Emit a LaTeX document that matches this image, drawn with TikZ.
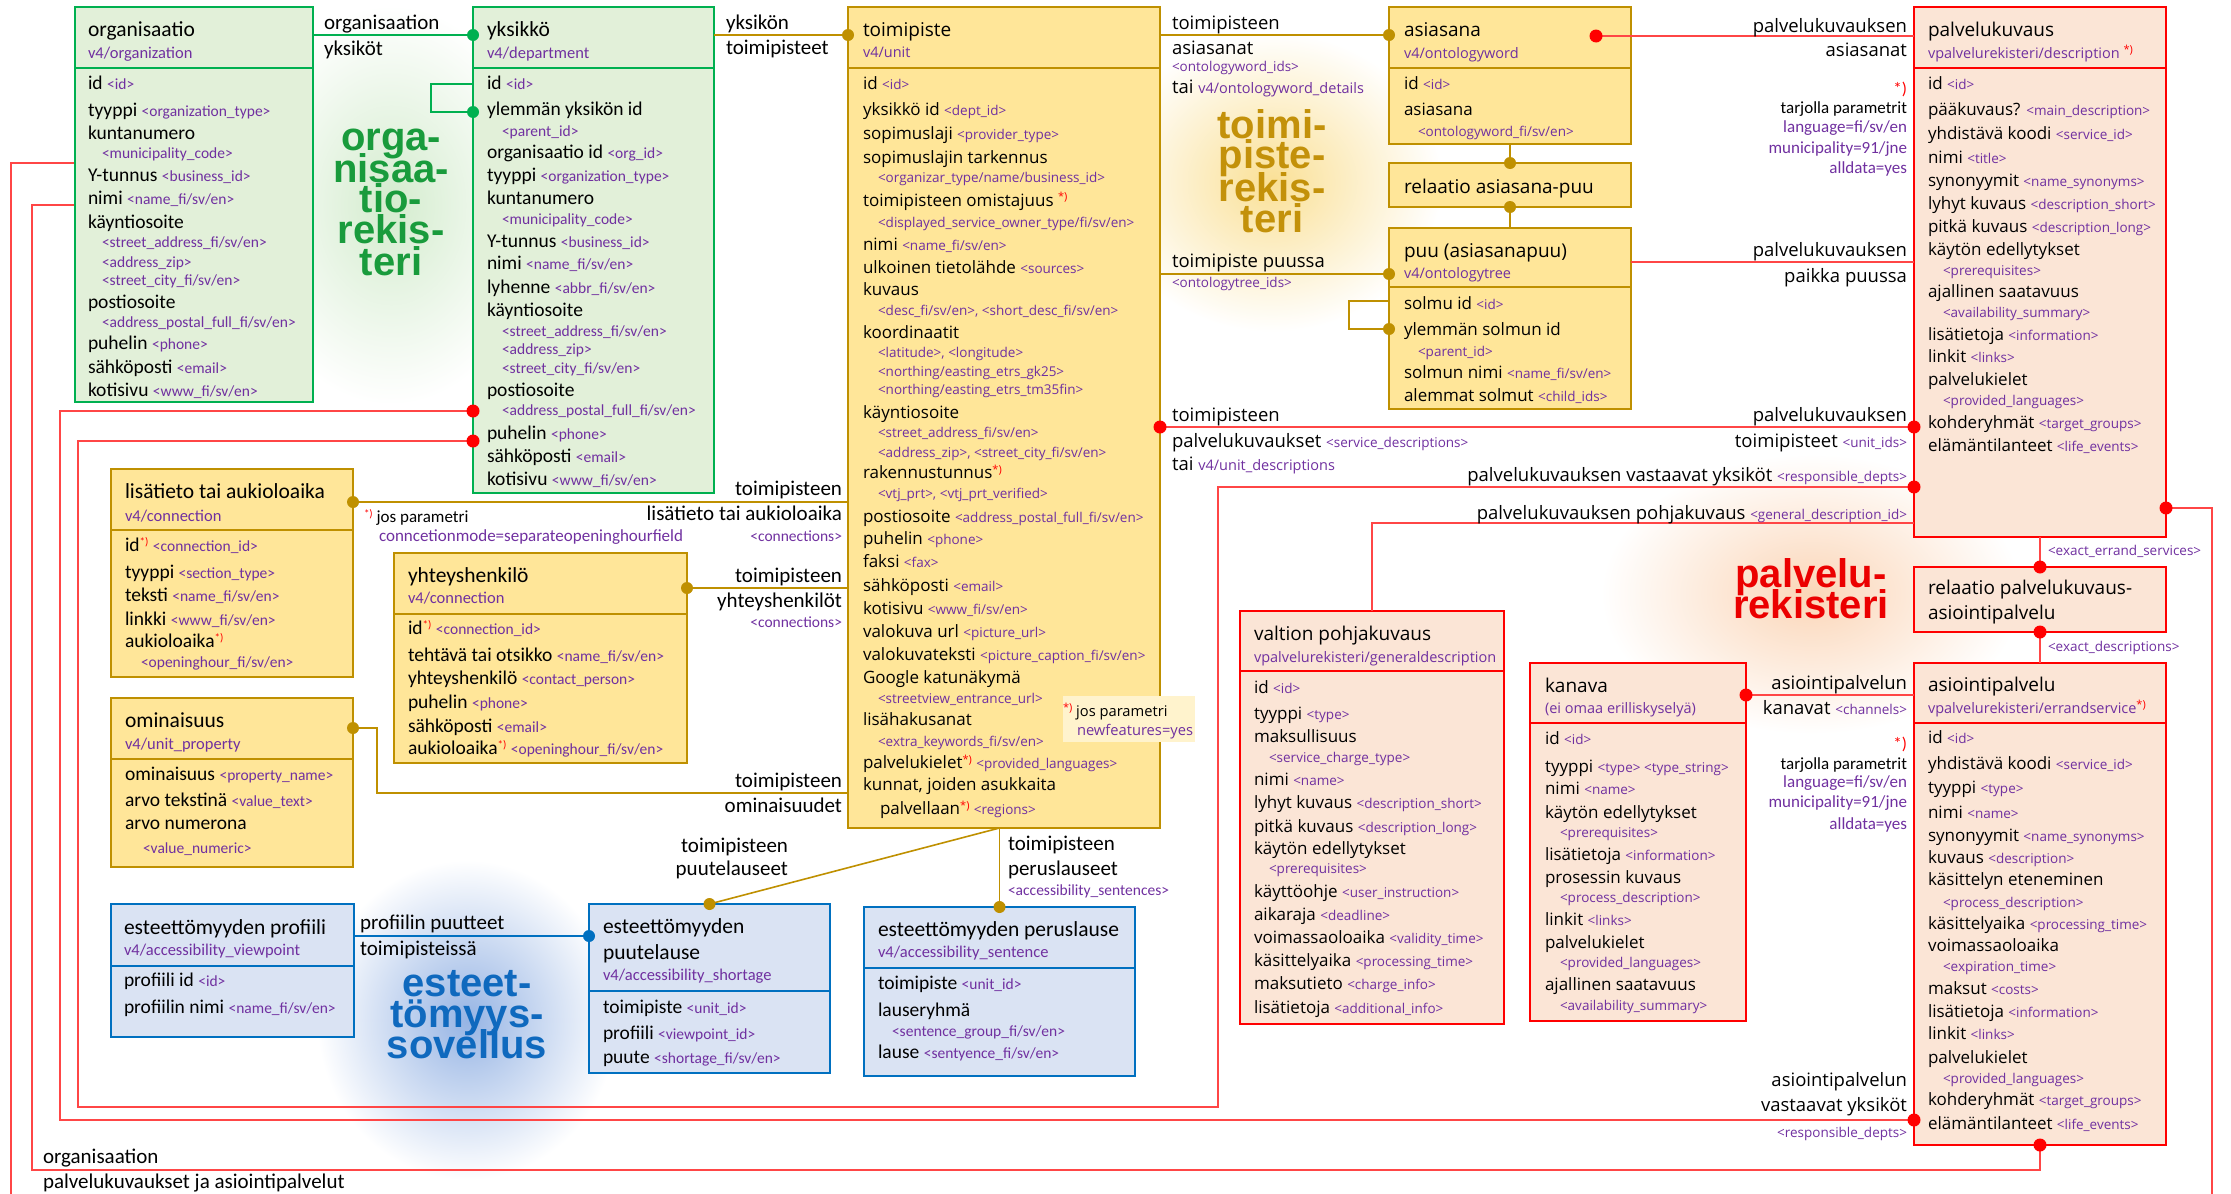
\documentclass[tikz,border=0pt]{standalone}
\usepackage{fontspec}
\setmainfont{Open Sans}
\newfontfamily\fcal{Carlito}
\newfontfamily\fos{Open Sans}
\newfontfamily\fbig{Liberation Sans}
\definecolor{gfill}{RGB}{226,240,217}
\definecolor{gline}{RGB}{0,176,80}
\definecolor{yfill}{RGB}{255,230,153}
\definecolor{yline}{RGB}{191,144,0}
\definecolor{rfill}{RGB}{251,229,214}
\definecolor{rline}{RGB}{255,0,0}
\definecolor{rcon}{RGB}{255,70,70}
\definecolor{bfill}{RGB}{218,227,243}
\definecolor{bline}{RGB}{0,112,192}
\definecolor{pur}{RGB}{112,48,160}
\definecolor{notef}{RGB}{255,243,205}
\definecolor{gbig}{RGB}{25,155,60}
\definecolor{ybig}{RGB}{195,145,10}
\definecolor{bbig}{RGB}{15,105,190}
\definecolor{rbig}{RGB}{235,0,0}
\newcommand\tgo[1]{{\color{pur}\fontsize{13.5}{16}\selectfont #1}}
\newcommand\tgc[1]{{\color{pur}\fontsize{15.5}{18}\selectfont #1}}
\newcommand\rast{\raisebox{.55ex}{\color{red}\fontsize{11}{12}\selectfont *)}}
\tikzset{
 box/.style={rectangle, anchor=north west, outer sep=0pt, inner sep=0pt, line width=2.5pt},
 gbox/.style={box, draw=gline, fill=gfill},
 ybox/.style={box, draw=yline, fill=yfill},
 rbox/.style={box, draw=rline, fill=rfill},
 bbox/.style={box, draw=bline, fill=bfill},
 txt/.style={anchor=base west, inner sep=0pt, outer sep=0pt},
 ct/.style={txt, font=\fcal\fontsize{21.5}{24}\selectfont},
 cf/.style={txt, font=\fcal\fontsize{19.5}{22}\selectfont},
 cs/.style={txt, text=pur, font=\fcal\fontsize{16.5}{19}\selectfont},
 ctg/.style={txt, text=pur, font=\fcal\fontsize{15.5}{18}\selectfont},
 cl/.style={txt, font=\fcal\fontsize{21}{24}\selectfont},
 cn/.style={txt, font=\fcal\fontsize{17}{20}\selectfont},
 ot/.style={txt, font=\fos\fontsize{19}{22}\selectfont},
 of/.style={txt, font=\fos\fontsize{17}{20}\selectfont},
 os/.style={txt, text=pur, font=\fos\fontsize{14.5}{17}\selectfont},
 otg/.style={txt, text=pur, font=\fos\fontsize{13.5}{16}\selectfont},
 ol/.style={txt, font=\fos\fontsize{18.5}{22}\selectfont},
 on/.style={txt, font=\fos\fontsize{14.7}{17}\selectfont},
 re/.style={anchor=base east},
 big/.style={anchor=base, inner sep=0pt, text height=27pt, text depth=2pt, font=\fbig\bfseries\fontsize{40}{40}\selectfont},
 gsep/.style={draw=gline, line width=2pt},
 ysep/.style={draw=yline, line width=2pt},
 rsep/.style={draw=rline, line width=1.6pt},
 bsep/.style={draw=bline, line width=2pt},
 gconn/.style={draw=gline, line width=2pt},
 yconn/.style={draw=yline, line width=1.6pt},
 rconn/.style={draw=rcon, line width=1.8pt},
 bconn/.style={draw=bline, line width=1.8pt},
}
\begin{document}
\begin{tikzpicture}[x=1pt,y=-1pt]
\useasboundingbox[fill=white] (0,0) rectangle (2231,1194);
% glows
\shade[inner color={rgb,255:red,212;green,236;blue,206}, outer color=white] (391,205) ellipse (150pt and 200pt);
\shade[inner color={rgb,255:red,250;green,224;blue,150}, outer color=white] (1272,182) ellipse (170pt and 150pt);
\shade[inner color={rgb,255:red,150;green,180;blue,228}, outer color=white] (467,1020) ellipse (150pt and 160pt);
\shade[inner color={rgb,255:red,251;green,214;blue,184}, outer color=white] (1811,594) ellipse (210pt and 140pt);
% big labels
\node[big, text=gbig] (g1) at (391,150) {orga-};
\node[big, text=gbig] (g2) at (391,182) {nisaa-};
\node[big, text=gbig] (g3) at (391,212) {tio-};
\node[big, text=gbig] (g4) at (391,243) {rekis-};
\node[big, text=gbig] (g5) at (391,275) {teri};
\node[big, text=ybig] (y1) at (1272,138) {toimi-};
\node[big, text=ybig] (y2) at (1272,168) {piste-};
\node[big, text=ybig] (y3) at (1272,201) {rekis-};
\node[big, text=ybig] (y4) at (1272,232) {teri};
\node[big, text=bbig] (b1) at (467,996) {esteet-};
\node[big, text=bbig] (b2) at (467,1027) {tömyys-};
\node[big, text=bbig] (b3) at (467,1058) {sovellus};
\node[big, text=rbig] (r1) at (1811,587) {palvelu-};
\node[big, text=rbig] (r2) at (1811,618) {rekisteri};

% ---------- long connectors ----------
\draw[rconn] (75,163) -| (11,1194);
\draw[rconn] (75,205) -| (32,1170) -| (2040,1145);
\draw[rconn] (473,411) -| (60,1120) -- (1914,1120);
\draw[rconn] (473,441) -| (78,1107) -| (1218,487) -- (1914,487);
\draw[rconn] (2166,508) -| (2212,1194);

% ---------- boxes ----------
\node[gbox, minimum width=238pt, minimum height=395pt] (org) at (75,7) {};
\node[gbox, minimum width=241pt, minimum height=486pt] (yks) at (473,7) {};
\node[ybox, minimum width=312pt, minimum height=821pt] (toim) at (848,7) {};
\node[ybox, minimum width=242pt, minimum height=137pt] (asia) at (1389,7) {};
\node[ybox, minimum width=242pt, minimum height=44pt] (rel1) at (1389,163) {};
\node[ybox, minimum width=242pt, minimum height=181pt] (puu) at (1389,228) {};
\node[rbox, minimum width=252pt, minimum height=530pt] (pk) at (1914,7) {};
\node[rbox, minimum width=252pt, minimum height=65pt] (rel2) at (1914,567) {};
\node[rbox, minimum width=252pt, minimum height=482pt] (asi) at (1914,663) {};
\node[rbox, minimum width=216pt, minimum height=358pt] (kan) at (1530,663) {};
\node[rbox, minimum width=264pt, minimum height=413pt] (val) at (1240,611) {};
\node[ybox, minimum width=242pt, minimum height=208pt] (lis) at (111,469) {};
\node[ybox, minimum width=293pt, minimum height=210pt] (yht) at (394,553) {};
\node[ybox, minimum width=242pt, minimum height=169pt] (omi) at (111,698) {};
\node[bbox, minimum width=243pt, minimum height=133pt] (prof) at (111,904) {};
\node[bbox, minimum width=241pt, minimum height=169pt] (puut) at (589,904) {};
\node[bbox, minimum width=271pt, minimum height=169pt] (peru) at (864,907) {};

% header separators
\draw[gsep] (org.west |- 0,68) -- (org.east |- 0,68);
\draw[gsep] (yks.west |- 0,68) -- (yks.east |- 0,68);
\draw[ysep] (toim.west |- 0,68) -- (toim.east |- 0,68);
\draw[ysep] (asia.west |- 0,68) -- (asia.east |- 0,68);
\draw[ysep] (puu.west |- 0,287) -- (puu.east |- 0,287);
\draw[rsep] (pk.west |- 0,68) -- (pk.east |- 0,68);
\draw[rsep] (asi.west |- 0,723) -- (asi.east |- 0,723);
\draw[rsep] (kan.west |- 0,723) -- (kan.east |- 0,723);
\draw[rsep] (val.west |- 0,671) -- (val.east |- 0,671);
\draw[ysep] (lis.west |- 0,530) -- (lis.east |- 0,530);
\draw[ysep] (yht.west |- 0,614) -- (yht.east |- 0,614);
\draw[ysep] (omi.west |- 0,759) -- (omi.east |- 0,759);
\draw[bsep] (prof.west |- 0,966) -- (prof.east |- 0,966);
\draw[bsep] (puut.west |- 0,991) -- (puut.east |- 0,991);
\draw[bsep] (peru.west |- 0,968) -- (peru.east |- 0,968);

% ---------- connectors between boxes ----------
\draw[gconn] (org.east |- 0,35) -- (yks.west |- 0,35);
\draw[gconn] (yks.west |- 0,84) -| (431,112) -- (yks.west |- 0,112);
\draw[yconn] (yks.east |- 0,35) -- (toim.west |- 0,35);
\draw[yconn] (toim.east |- 0,35) -- (asia.west |- 0,35);
\draw[yconn] (toim.east |- 0,274) -- (puu.west |- 0,274);
\draw[yconn] (asia.south) -- (rel1.north);
\draw[yconn] (rel1.south) -- (puu.north);
\draw[yconn] (puu.west |- 0,301) -| (1349,329) -- (puu.west |- 0,329);
\coordinate (adot) at (1596,36);
\draw[rconn] (adot) -- (pk.west |- 0,36);
\draw[rconn] (puu.east |- 0,262) -- (pk.west |- 0,262);
\draw[rconn] (toim.east |- 0,427) -- (pk.west |- 0,427);
\draw[rconn] (pk.west |- 0,523) -| (val.north);
\draw[rconn] (pk.south) -- (rel2.north);
\draw[rconn] (rel2.south) -- (asi.north);
\draw[rconn] (kan.east |- 0,695) -- (asi.west |- 0,695);
\draw[yconn] (lis.east |- 0,502) -- (toim.west |- 0,502);
\draw[yconn] (yht.east |- 0,588) -- (toim.west |- 0,588);
\draw[yconn] (omi.east |- 0,728) -| (377,793) -- (toim.west |- 0,793);
\draw[yconn] (peru.north |- toim.south) -- (puut.north);
\draw[yconn] (peru.north |- toim.south) -- (peru.north);
\draw[bconn] (prof.east |- 0,936) -- (puut.west |- 0,936);

% ---------- dots ----------
\fill[gline] (yks.west |- 0,35) circle (6pt);
\fill[gline] (yks.west |- 0,112) circle (6pt);
\fill[yline] (toim.west |- 0,35) circle (6pt);
\fill[yline] (asia.west |- 0,35) circle (6pt);
\fill[yline] (puu.west |- 0,274) circle (6pt);
\fill[yline] (puu.west |- 0,329) circle (6pt);
\fill[yline] (rel1.north) circle (6pt);
\fill[yline] (rel1.south) circle (6pt);
\fill[yline] (lis.east |- 0,502) circle (6pt);
\fill[yline] (yht.east |- 0,588) circle (6pt);
\fill[yline] (omi.east |- 0,728) circle (6pt);
\fill[yline] (puut.north) circle (6pt);
\fill[yline] (peru.north) circle (6pt);
\fill[bline] (puut.west |- 0,936) circle (6pt);
\fill[rline] (yks.west |- 0,411) circle (6.5pt);
\fill[rline] (yks.west |- 0,441) circle (6.5pt);
\fill[rline] (adot) circle (6.5pt);
\fill[rline] (toim.east |- 0,427) circle (6.5pt);
\fill[rline] (pk.west |- 0,427) circle (6.5pt);
\fill[rline] (pk.west |- 0,487) circle (6.5pt);
\fill[rline] (pk.east |- 0,508) circle (6.5pt);
\fill[rline] (rel2.north) circle (6.5pt);
\fill[rline] (rel2.south) circle (6.5pt);
\fill[rline] (kan.east |- 0,695) circle (6.5pt);
\fill[rline] (asi.west |- 0,1120) circle (6.5pt);
\fill[rline] (asi.south) circle (6.5pt);

% ---------- organisaatio ----------
\node[ct] (org-t) at (88,36) {organisaatio};
\node[cs] (org-s) at (88,58) {v4/organization};
\node[cf] (org-1) at (88,89) {id \tgc{<id>}};
\node[cf] (org-2) at (88,116) {tyyppi \tgc{<organization\_type>}};
\node[cf] (org-3) at (88,139) {kuntanumero};
\node[ctg] (org-4) at (102,158) {<municipality\_code>};
\node[cf] (org-5) at (88,181) {Y-tunnus \tgc{<business\_id>}};
\node[cf] (org-6) at (88,204) {nimi \tgc{<name\_fi/sv/en>}};
\node[cf] (org-7) at (88,228) {käyntiosoite};
\node[ctg] (org-8) at (102,247) {<street\_address\_fi/sv/en>};
\node[ctg] (org-9) at (102,267) {<address\_zip>};
\node[ctg] (org-10) at (102,285) {<street\_city\_fi/sv/en>};
\node[cf] (org-11) at (88,308) {postiosoite};
\node[ctg] (org-12) at (102,327) {<address\_postal\_full\_fi/sv/en>};
\node[cf] (org-13) at (88,349) {puhelin \tgc{<phone>}};
\node[cf] (org-14) at (88,373) {sähköposti \tgc{<email>}};
\node[cf] (org-15) at (88,396) {kotisivu \tgc{<www\_fi/sv/en>}};

% ---------- yksikkö ----------
\node[ct] (yks-t) at (487,36) {yksikkö};
\node[cs] (yks-s) at (487,58) {v4/department};
\node[cf] (yks-1) at (487,89) {id \tgc{<id>}};
\node[cf] (yks-2) at (487,115) {ylemmän yksikön id};
\node[ctg] (yks-3) at (502,136) {<parent\_id>};
\node[cf] (yks-4) at (487,158) {organisaatio id \tgc{<org\_id>}};
\node[cf] (yks-5) at (487,181) {tyyppi \tgc{<organization\_type>}};
\node[cf] (yks-6) at (487,204) {kuntanumero};
\node[ctg] (yks-7) at (502,224) {<municipality\_code>};
\node[cf] (yks-8) at (487,247) {Y-tunnus \tgc{<business\_id>}};
\node[cf] (yks-9) at (487,269) {nimi \tgc{<name\_fi/sv/en>}};
\node[cf] (yks-10) at (487,293) {lyhenne \tgc{<abbr\_fi/sv/en>}};
\node[cf] (yks-11) at (487,316) {käyntiosoite};
\node[ctg] (yks-12) at (502,336) {<street\_address\_fi/sv/en>};
\node[ctg] (yks-13) at (502,354) {<address\_zip>};
\node[ctg] (yks-14) at (502,373) {<street\_city\_fi/sv/en>};
\node[cf] (yks-15) at (487,396) {postiosoite};
\node[ctg] (yks-16) at (502,415) {<address\_postal\_full\_fi/sv/en>};
\node[cf] (yks-17) at (487,439) {puhelin \tgc{<phone>}};
\node[cf] (yks-18) at (487,462) {sähköposti \tgc{<email>}};
\node[cf] (yks-19) at (487,485) {kotisivu \tgc{<www\_fi/sv/en>}};

% ---------- toimipiste ----------
\node[ot] (tp-t) at (863,36) {toimipiste};
\node[os] (tp-s) at (863,57) {v4/unit};
\node[of] (tp-1) at (863,89) {id \tgo{<id>}};
\node[of] (tp-2) at (863,115) {yksikkö id \tgo{<dept\_id>}};
\node[of] (tp-3) at (863,139) {sopimuslaji \tgo{<provider\_type>}};
\node[of] (tp-4) at (863,163) {sopimuslajin tarkennus};
\node[otg] (tp-5) at (878,182) {<organizar\_type/name/business\_id>};
\node[of] (tp-6) at (863,206) {toimipisteen omistajuus \rast};
\node[otg] (tp-7) at (878,227) {<displayed\_service\_owner\_type/fi/sv/en>};
\node[of] (tp-8) at (863,250) {nimi \tgo{<name\_fi/sv/en>}};
\node[of] (tp-9) at (863,273) {ulkoinen tietolähde \tgo{<sources>}};
\node[of] (tp-10) at (863,295) {kuvaus};
\node[otg] (tp-11) at (878,315) {<desc\_fi/sv/en>, <short\_desc\_fi/sv/en>};
\node[of] (tp-12) at (863,338) {koordinaatit};
\node[otg] (tp-13) at (878,357) {<latitude>, <longitude>};
\node[otg] (tp-14) at (878,376) {<northing/easting\_etrs\_gk25>};
\node[otg] (tp-15) at (878,394) {<northing/easting\_etrs\_tm35fin>};
\node[of] (tp-16) at (863,418) {käyntiosoite};
\node[otg] (tp-17) at (878,437) {<street\_address\_fi/sv/en>};
\node[otg] (tp-18) at (878,457) {<address\_zip>, <street\_city\_fi/sv/en>};
\node[of] (tp-19) at (863,478) {rakennustunnus\rast};
\node[otg] (tp-20) at (878,498) {<vtj\_prt>, <vtj\_prt\_verified>};
\node[of] (tp-21) at (863,522) {postiosoite \tgo{<address\_postal\_full\_fi/sv/en>}};
\node[of] (tp-22) at (863,544) {puhelin \tgo{<phone>}};
\node[of] (tp-23) at (863,567) {faksi \tgo{<fax>}};
\node[of] (tp-24) at (863,591) {sähköposti \tgo{<email>}};
\node[of] (tp-25) at (863,614) {kotisivu \tgo{<www\_fi/sv/en>}};
\node[of] (tp-26) at (863,637) {valokuva url \tgo{<picture\_url>}};
\node[of] (tp-27) at (863,660) {valokuvateksti \tgo{<picture\_caption\_fi/sv/en>}};
\node[of] (tp-28) at (863,683) {Google katunäkymä};
\node[otg] (tp-29) at (878,703) {<streetview\_entrance\_url>};
\node[of] (tp-30) at (863,725) {lisähakusanat};
\node[otg] (tp-31) at (878,746) {<extra\_keywords\_fi/sv/en>};
\node[of] (tp-32) at (863,768) {palvelukielet\rast{} \tgo{<provided\_languages>}};
\node[of] (tp-33) at (863,790) {kunnat, joiden asukkaita};
\node[of] (tp-34) at (880,814) {palvellaan\rast{} \tgo{<regions>}};
\node[fill=notef, anchor=north west, inner sep=0pt, minimum width=132pt, minimum height=46pt] (tpn) at (1063,696) {};
\node[on] (tpn-1) at (1063,716) {\rast\ jos parametri};
\node[on, text=pur] (tpn-2) at (1077,735) {newfeatures=yes};

% ---------- asiasana / relaatio / puu ----------
\node[ot] (as-t) at (1404,36) {asiasana};
\node[os] (as-s) at (1404,58) {v4/ontologyword};
\node[of] (as-1) at (1404,89) {id \tgo{<id>}};
\node[of] (as-2) at (1404,115) {asiasana};
\node[otg] (as-3) at (1418,136) {<ontologyword\_fi/sv/en>};
\node[ot] (r1-t) at (1404,193) {relaatio asiasana-puu};
\node[ot] (pu-t) at (1404,257) {puu (asiasanapuu)};
\node[os] (pu-s) at (1404,278) {v4/ontologytree};
\node[of] (pu-1) at (1404,309) {solmu id \tgo{<id>}};
\node[of] (pu-2) at (1404,335) {ylemmän solmun id};
\node[otg] (pu-3) at (1418,356) {<parent\_id>};
\node[of] (pu-4) at (1404,378) {solmun nimi \tgo{<name\_fi/sv/en>}};
\node[of] (pu-5) at (1404,401) {alemmat solmut \tgo{<child\_ids>}};

% ---------- palvelukuvaus ----------
\node[ot] (pk-t) at (1928,36) {palvelukuvaus};
\node[os] (pk-s) at (1928,58) {vpalvelurekisteri/description \rast};
\node[of] (pk-1) at (1928,89) {id \tgo{<id>}};
\node[of] (pk-2) at (1928,115) {pääkuvaus? \tgo{<main\_description>}};
\node[of] (pk-3) at (1928,139) {yhdistävä koodi \tgo{<service\_id>}};
\node[of] (pk-4) at (1928,163) {nimi \tgo{<title>}};
\node[of] (pk-5) at (1928,186) {synonyymit \tgo{<name\_synonyms>}};
\node[of] (pk-6) at (1928,209) {lyhyt kuvaus \tgo{<description\_short>}};
\node[of] (pk-7) at (1928,232) {pitkä kuvaus \tgo{<description\_long>}};
\node[of] (pk-8) at (1928,255) {käytön edellytykset};
\node[otg] (pk-9) at (1943,275) {<prerequisites>};
\node[of] (pk-10) at (1928,297) {ajallinen saatavuus};
\node[otg] (pk-11) at (1943,317) {<availability\_summary>};
\node[of] (pk-12) at (1928,340) {lisätietoja \tgo{<information>}};
\node[of] (pk-13) at (1928,362) {linkit \tgo{<links>}};
\node[of] (pk-14) at (1928,385) {palvelukielet};
\node[otg] (pk-15) at (1943,405) {<provided\_languages>};
\node[of] (pk-16) at (1928,428) {kohderyhmät \tgo{<target\_groups>}};
\node[of] (pk-17) at (1928,451) {elämäntilanteet \tgo{<life\_events>}};

% ---------- relaatio palvelukuvaus-asiointipalvelu ----------
\node[ot] (r2-1) at (1928,594) {relaatio palvelukuvaus-};
\node[ot] (r2-2) at (1928,619) {asiointipalvelu};

% ---------- asiointipalvelu ----------
\node[ot] (ai-t) at (1928,691) {asiointipalvelu};
\node[os] (ai-s) at (1928,713) {vpalvelurekisteri/errandservice\rast};
\node[of] (ai-1) at (1928,743) {id \tgo{<id>}};
\node[of] (ai-2) at (1928,769) {yhdistävä koodi \tgo{<service\_id>}};
\node[of] (ai-3) at (1928,793) {tyyppi \tgo{<type>}};
\node[of] (ai-4) at (1928,818) {nimi \tgo{<name>}};
\node[of] (ai-5) at (1928,841) {synonyymit \tgo{<name\_synonyms>}};
\node[of] (ai-6) at (1928,863) {kuvaus \tgo{<description>}};
\node[of] (ai-7) at (1928,885) {käsittelyn eteneminen};
\node[otg] (ai-8) at (1943,907) {<process\_description>};
\node[of] (ai-9) at (1928,929) {käsittelyaika \tgo{<processing\_time>}};
\node[of] (ai-10) at (1928,951) {voimassaoloaika};
\node[otg] (ai-11) at (1943,971) {<expiration\_time>};
\node[of] (ai-12) at (1928,994) {maksut \tgo{<costs>}};
\node[of] (ai-13) at (1928,1017) {lisätietoja \tgo{<information>}};
\node[of] (ai-14) at (1928,1039) {linkit \tgo{<links>}};
\node[of] (ai-15) at (1928,1063) {palvelukielet};
\node[otg] (ai-16) at (1943,1083) {<provided\_languages>};
\node[of] (ai-17) at (1928,1105) {kohderyhmät \tgo{<target\_groups>}};
\node[of] (ai-18) at (1928,1129) {elämäntilanteet \tgo{<life\_events>}};

% ---------- kanava ----------
\node[ot] (ka-t) at (1545,692) {kanava};
\node[os] (ka-s) at (1545,713) {(ei omaa erilliskyselyä)};
\node[of] (ka-1) at (1545,744) {id \tgo{<id>}};
\node[of] (ka-2) at (1545,772) {tyyppi \tgo{<type> <type\_string>}};
\node[of] (ka-3) at (1545,794) {nimi \tgo{<name>}};
\node[of] (ka-4) at (1545,818) {käytön edellytykset};
\node[otg] (ka-5) at (1560,837) {<prerequisites>};
\node[of] (ka-6) at (1545,860) {lisätietoja \tgo{<information>}};
\node[of] (ka-7) at (1545,883) {prosessin kuvaus};
\node[otg] (ka-8) at (1560,902) {<process\_description>};
\node[of] (ka-9) at (1545,925) {linkit \tgo{<links>}};
\node[of] (ka-10) at (1545,948) {palvelukielet};
\node[otg] (ka-11) at (1560,967) {<provided\_languages>};
\node[of] (ka-12) at (1545,990) {ajallinen saatavuus};
\node[otg] (ka-13) at (1560,1010) {<availability\_summary>};

% ---------- valtion pohjakuvaus ----------
\node[ot] (va-t) at (1254,640) {valtion pohjakuvaus};
\node[os] (va-s) at (1254,662) {vpalvelurekisteri/generaldescription};
\node[of] (va-1) at (1254,693) {id \tgo{<id>}};
\node[of] (va-2) at (1254,719) {tyyppi \tgo{<type>}};
\node[of] (va-3) at (1254,742) {maksullisuus};
\node[otg] (va-4) at (1269,762) {<service\_charge\_type>};
\node[of] (va-5) at (1254,785) {nimi \tgo{<name>}};
\node[of] (va-6) at (1254,808) {lyhyt kuvaus \tgo{<description\_short>}};
\node[of] (va-7) at (1254,832) {pitkä kuvaus \tgo{<description\_long>}};
\node[of] (va-8) at (1254,854) {käytön edellytykset};
\node[otg] (va-9) at (1269,873) {<prerequisites>};
\node[of] (va-10) at (1254,897) {käyttöohje \tgo{<user\_instruction>}};
\node[of] (va-11) at (1254,920) {aikaraja \tgo{<deadline>}};
\node[of] (va-12) at (1254,943) {voimassaoloaika \tgo{<validity\_time>}};
\node[of] (va-13) at (1254,966) {käsittelyaika \tgo{<processing\_time>}};
\node[of] (va-14) at (1254,989) {maksutieto \tgo{<charge\_info>}};
\node[of] (va-15) at (1254,1013) {lisätietoja \tgo{<additional\_info>}};

% ---------- lisätieto tai aukioloaika ----------
\node[ct] (li-t) at (125,498) {lisätieto tai aukioloaika};
\node[cs] (li-s) at (125,521) {v4/connection};
\node[cf] (li-1) at (125,551) {id\rast{} \tgc{<connection\_id>}};
\node[cf] (li-2) at (125,578) {tyyppi \tgc{<section\_type>}};
\node[cf] (li-3) at (125,601) {teksti \tgc{<name\_fi/sv/en>}};
\node[cf] (li-4) at (125,625) {linkki \tgc{<www\_fi/sv/en>}};
\node[cf] (li-5) at (125,647) {aukioloaika\rast};
\node[ctg] (li-6) at (141,667) {<openinghour\_fi/sv/en>};

% ---------- yhteyshenkilö ----------
\node[ct] (yh-t) at (408,582) {yhteyshenkilö};
\node[cs] (yh-s) at (408,603) {v4/connection};
\node[cf] (yh-1) at (408,634) {id\rast{} \tgc{<connection\_id>}};
\node[cf] (yh-2) at (408,661) {tehtävä tai otsikko \tgc{<name\_fi/sv/en>}};
\node[cf] (yh-3) at (408,684) {yhteyshenkilö \tgc{<contact\_person>}};
\node[cf] (yh-4) at (408,708) {puhelin \tgc{<phone>}};
\node[cf] (yh-5) at (408,732) {sähköposti \tgc{<email>}};
\node[cf] (yh-6) at (408,754) {aukioloaika\rast{} \tgc{<openinghour\_fi/sv/en>}};

% ---------- ominaisuus ----------
\node[ct] (om-t) at (125,727) {ominaisuus};
\node[cs] (om-s) at (125,749) {v4/unit\_property};
\node[cf] (om-1) at (125,780) {ominaisuus \tgc{<property\_name>}};
\node[cf] (om-2) at (125,806) {arvo tekstinä \tgc{<value\_text>}};
\node[cf] (om-3) at (125,829) {arvo numerona};
\node[ctg] (om-4) at (143,853) {<value\_numeric>};

% ---------- esteettömyys ----------
\node[ct] (pf-t) at (124,934) {esteettömyyden profiili};
\node[cs] (pf-s) at (124,955) {v4/accessibility\_viewpoint};
\node[cf] (pf-1) at (124,986) {profiili id \tgc{<id>}};
\node[cf] (pf-2) at (124,1013) {profiilin nimi \tgc{<name\_fi/sv/en>}};
\node[ct] (pt-t1) at (603,933) {esteettömyyden};
\node[ct] (pt-t2) at (603,959) {puutelause};
\node[cs] (pt-s) at (603,980) {v4/accessibility\_shortage};
\node[cf] (pt-1) at (603,1013) {toimipiste \tgc{<unit\_id>}};
\node[cf] (pt-2) at (603,1039) {profiili \tgc{<viewpoint\_id>}};
\node[cf] (pt-3) at (603,1063) {puute \tgc{<shortage\_fi/sv/en>}};
\node[ct] (pr-t) at (878,936) {esteettömyyden peruslause};
\node[cs] (pr-s) at (878,957) {v4/accessibility\_sentence};
\node[cf] (pr-1) at (878,989) {toimipiste \tgc{<unit\_id>}};
\node[cf] (pr-2) at (878,1016) {lauseryhmä};
\node[ctg] (pr-3) at (892,1036) {<sentence\_group\_fi/sv/en>};
\node[cf] (pr-4) at (878,1058) {lause \tgc{<sentyence\_fi/sv/en>}};

% ---------- connector labels (Carlito) ----------
\node[cl] (l1) at (324,29) {organisaation};
\node[cl] (l2) at (324,55) {yksiköt};
\node[cl] (l3) at (726,29) {yksikön};
\node[cl] (l4) at (726,54) {toimipisteet};
\node[cl, re] (l5) at (842,495) {toimipisteen};
\node[cl, re] (l6) at (842,520) {lisätieto tai aukioloaika};
\node[ctg, re] (l7) at (842,541) {<connections>};
\node[cn] (l8) at (364,522) {\rast\ jos parametri};
\node[cn, text=pur] (l9) at (379,541) {conncetionmode=separateopeninghourfield};
\node[cl, re] (l10) at (842,582) {toimipisteen};
\node[cl, re] (l11) at (842,607) {yhteyshenkilöt};
\node[ctg, re] (l12) at (842,627) {<connections>};
\node[cl, re] (l13) at (842,787) {toimipisteen};
\node[cl, re] (l14) at (842,812) {ominaisuudet};
\node[cl, re] (l15) at (788,852) {toimipisteen};
\node[cl, re] (l16) at (788,875) {puutelauseet};
\node[cl] (l17) at (1008,850) {toimipisteen};
\node[cl] (l18) at (1008,875) {peruslauseet};
\node[ctg] (l19) at (1008,895) {<accessibility\_sentences>};
\node[cl] (l20) at (360,929) {profiilin puutteet};
\node[cl] (l21) at (360,955) {toimipisteissä};
\node[cl] (l22) at (43,1163) {organisaation};
\node[cl] (l23) at (43,1188) {palvelukuvaukset ja asiointipalvelut};

% ---------- connector labels (Open Sans) ----------
\node[ol] (m1) at (1172,29) {toimipisteen};
\node[ol] (m2) at (1172,54) {asiasanat};
\node[otg] (m3) at (1172,71) {<ontologyword\_ids>};
\node[ol] (m4) at (1172,93) {tai {\color{pur}\fontsize{14.5}{17}\selectfont v4/ontologyword\_details}};
\node[ol] (m5) at (1172,267) {toimipiste puussa};
\node[otg] (m6) at (1172,287) {<ontologytree\_ids>};
\node[ol] (m7) at (1172,421) {toimipisteen};
\node[ol] (m8) at (1172,447) {palvelukuvaukset \tgo{<service\_descriptions>}};
\node[ol] (m9) at (1172,470) {tai {\color{pur}\fontsize{14.5}{17}\selectfont v4/unit\_descriptions}};
\node[ol, re] (m10) at (1907,32) {palvelukuvauksen};
\node[ol, re] (m11) at (1907,56) {asiasanat};
\node[cn, re, text=red] (m12) at (1907,94) {*)};
\node[cn, re] (m13) at (1907,113) {tarjolla parametrit};
\node[cn, re, text=pur] (m14) at (1907,132) {language=fi/sv/en};
\node[cn, re, text=pur] (m15) at (1907,153) {municipality=91/jne};
\node[cn, re, text=pur] (m16) at (1907,173) {alldata=yes};
\node[ol, re] (m17) at (1907,256) {palvelukuvauksen};
\node[ol, re] (m18) at (1907,282) {paikka puussa};
\node[ol, re] (m19) at (1907,421) {palvelukuvauksen};
\node[ol, re] (m20) at (1907,447) {toimipisteet \tgo{<unit\_ids>}};
\node[ol, re] (m21) at (1907,481) {palvelukuvauksen vastaavat yksiköt \tgo{<responsible\_depts>}};
\node[ol, re] (m22) at (1907,519) {palvelukuvauksen pohjakuvaus \tgo{<general\_description\_id>}};
\node[otg] (m23) at (2048,555) {<exact\_errand\_services>};
\node[otg] (m24) at (2048,651) {<exact\_descriptions>};
\node[ol, re] (m25) at (1907,689) {asiointipalvelun};
\node[ol, re] (m26) at (1907,714) {kanavat \tgo{<channels>}};
\node[cn, re, text=red] (m27) at (1907,749) {*)};
\node[cn, re] (m28) at (1907,769) {tarjolla parametrit};
\node[cn, re, text=pur] (m29) at (1907,787) {language=fi/sv/en};
\node[cn, re, text=pur] (m30) at (1907,807) {municipality=91/jne};
\node[cn, re, text=pur] (m31) at (1907,829) {alldata=yes};
\node[ol, re] (m32) at (1907,1086) {asiointipalvelun};
\node[ol, re] (m33) at (1907,1111) {vastaavat yksiköt};
\node[otg, re] (m34) at (1907,1137) {<responsible\_depts>};
\end{tikzpicture}
\end{document}
